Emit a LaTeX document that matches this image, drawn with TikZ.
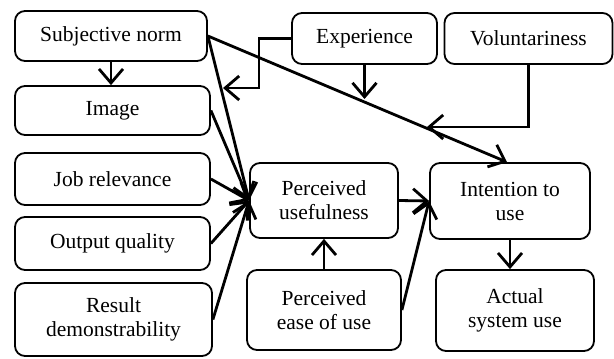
\documentclass[tikz,border=0pt]{standalone}
\usepackage{fontspec}
\setmainfont{Liberation Serif}
\usetikzlibrary{arrows.meta}
\tikzset{
  box/.style={draw, line width=1.8pt, rounded corners=10pt, align=center,
    inner sep=0pt, font=\fontsize{21.5}{24}\selectfont},
  arr/.style={line width=2.8pt, -{Straight Barb[length=14pt,width=24pt]}},
  ln/.style={line width=2.8pt}
}
\begin{document}
\begin{tikzpicture}[x=1pt,y=-1pt]
\useasboundingbox (0,0) rectangle (614,359);
\node[box, minimum width=192pt, minimum height=50pt] (sn) at (111,36) {Subjective norm};
\node[box, minimum width=195pt, minimum height=49pt] (img) at (112.5,110.5) {Image};
\node[box, minimum width=195pt, minimum height=52pt] (jr) at (112.5,179) {Job relevance};
\node[box, minimum width=195pt, minimum height=53pt] (oq) at (112.5,243.5) {Output quality};
\node[box, minimum width=197pt, minimum height=73pt] (rd) at (113.5,319.5) {Result\\demonstrability};
\node[box, minimum width=148pt, minimum height=75pt] (pu) at (324,200.5) {Perceived\\usefulness};
\node[box, minimum width=154pt, minimum height=80pt] (peou) at (324,310) {Perceived\\ease of use};
\node[box, minimum width=160pt, minimum height=76pt] (itu) at (510,201) {Intention to\\use};
\node[box, minimum width=158pt, minimum height=81pt] (asu) at (515,310.5) {Actual\\system use};
\node[box, minimum width=145pt, minimum height=51pt] (exp) at (364.5,38.5) {Experience};
\node[box, minimum width=168pt, minimum height=51pt] (vol) at (528.5,38.5) {Voluntariness};

\coordinate (m1) at (223,88);
\coordinate (m2) at (364.5,99);
\coordinate (m3) at (427,127);

\draw[arr] (sn.south) -- (sn.south |- img.north);
\draw[arr] (sn.east) -- ([xshift=-3pt]itu.north);
\draw[arr] (sn.east) -- (pu.west);
\draw[arr] (img.east) -- (pu.west);
\draw[arr] (jr.east) -- (pu.west);
\draw[arr] (oq.east) -- (pu.west);
\draw[arr] (rd.east) -- (pu.west);
\draw[arr] (pu.east) -- (itu.west);
\draw[arr] (peou.north) -- (pu.south);
\draw[arr] (peou.east) -- (itu.west);
\draw[arr] (itu.south) -- (itu.south |- asu.north);
\draw[arr] (exp.west) -- (259,38.5) -- (259,88) -- (m1);
\draw[arr] (exp.south) -- (m2);
\draw[arr] (vol.south) -- (vol.south |- m3) -- (m3);
\end{tikzpicture}
\end{document}
